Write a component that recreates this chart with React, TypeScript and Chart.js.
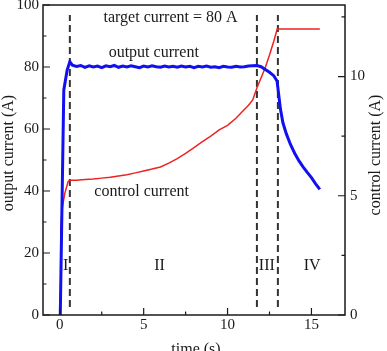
import React, { useEffect, useRef } from "react";
import { Chart, registerables } from "chart.js";
Chart.register(...registerables);

// ---- data ----
const outTime = [0, 0.03, 0.24, 0.44, 0.6, 0.75, 1.0, 1.25, 1.5, 1.75, 2.0, 2.25, 2.5, 2.75, 3.0, 3.25, 3.5, 3.75, 4.0, 4.25, 4.5, 4.75, 5.0, 5.25, 5.5, 5.75, 6.0, 6.25, 6.5, 6.75, 7.0, 7.25, 7.5, 7.75, 8.0, 8.25, 8.5, 8.75, 9.0, 9.25, 9.5, 9.75, 10.0, 10.25, 10.5, 10.75, 11.0, 11.25, 11.5, 11.75, 12.0, 12.25, 12.5, 12.75, 12.95, 13.05, 13.15, 13.3, 13.5, 13.75, 14.0, 14.25, 14.5, 14.75, 15.0, 15.25, 15.5];
const outCurrent = [0, 0, 72.6, 79, 81.7, 80.6, 80.2, 80.5, 79.9, 80.4, 80.0, 80.3, 79.8, 80.4, 80.1, 80.5, 79.9, 80.3, 80.0, 80.4, 80.1, 79.8, 80.3, 80.0, 80.4, 80.1, 79.9, 80.3, 80.0, 80.2, 79.9, 80.3, 80.0, 80.2, 79.8, 80.2, 80.0, 80.3, 79.9, 80.1, 79.8, 80.2, 80.0, 79.9, 80.2, 80.0, 80.1, 80.3, 80.4, 80.5, 80.1, 79.2, 78.3, 77.2, 75.5, 71, 66.5, 62, 58.5, 55, 52.2, 49.8, 47.8, 46, 44.3, 42.3, 40.5];
const ctrlTime = [0, 0.02, 0.06, 0.15, 0.3, 0.5, 0.6, 1.0, 1.5, 2.0, 2.5, 3.0, 3.5, 4.0, 4.5, 5.0, 5.5, 6.0, 6.5, 7.0, 7.5, 8.0, 8.5, 9.0, 9.5, 10.0, 10.5, 11.0, 11.25, 11.5, 11.75, 12.0, 12.25, 12.5, 12.75, 12.96, 15.5];
const ctrlCurrent = [0, 0.5, 3.6, 4.5, 5.1, 5.6, 5.65, 5.65, 5.68, 5.7, 5.74, 5.78, 5.83, 5.88, 5.96, 6.04, 6.12, 6.21, 6.37, 6.56, 6.78, 7.02, 7.27, 7.5, 7.76, 7.95, 8.25, 8.62, 8.8, 9.02, 9.52, 9.95, 10.38, 10.9, 11.47, 11.99, 11.99];
const phaseBoundaries = [0.6, 11.75, 13.0];
const phaseLabels = ["I", "II", "III", "IV"];
const phaseLabelTimes = [0.35, 5.95, 12.34, 15.04];
const xMajorTicks = [0, 5, 10, 15];
const xMinorTicks = [2.5, 7.5, 12.5];
const yLeftMajor = [0, 20, 40, 60, 80, 100];
const yLeftMinor = [10, 30, 50, 70, 90];
const yRightMajor = [0, 5, 10];
const yRightMinor = [2.5, 7.5, 12.5];

const FONT = "Liberation Serif";
const INK = "#1a1a1a";

const pairs = (xs: number[], ys: number[]) => xs.map((x, i) => ({ x, y: ys[i] }));

const decorPlugin = {
  id: "decor",
  afterDatasetsDraw(chart: any) {
    const { ctx, chartArea: a, scales } = chart;
    const sx = scales.x, sy = scales.y, sr = scales.y2;
    ctx.save();
    // frame
    ctx.strokeStyle = INK;
    ctx.lineWidth = 1.5;
    ctx.strokeRect(a.left, a.top, a.right - a.left, a.bottom - a.top);
    // ticks
    ctx.lineWidth = 1.2;
    ctx.beginPath();
    const tick = (x1: number, y1: number, x2: number, y2: number) => {
      ctx.moveTo(x1, y1);
      ctx.lineTo(x2, y2);
    };
    xMajorTicks.forEach((v) => { const p = sx.getPixelForValue(v); tick(p, a.bottom, p, a.bottom - 7); });
    xMinorTicks.forEach((v) => { const p = sx.getPixelForValue(v); tick(p, a.bottom, p, a.bottom - 3.5); });
    yLeftMajor.forEach((v) => { const p = sy.getPixelForValue(v); tick(a.left, p, a.left + 7, p); });
    yLeftMinor.forEach((v) => { const p = sy.getPixelForValue(v); tick(a.left, p, a.left + 3.5, p); });
    yRightMajor.forEach((v) => { const p = sr.getPixelForValue(v); tick(a.right, p, a.right - 7, p); });
    yRightMinor.forEach((v) => { const p = sr.getPixelForValue(v); tick(a.right, p, a.right - 3.5, p); });
    ctx.stroke();
    // annotations
    ctx.fillStyle = INK;
    ctx.font = `16px "${FONT}"`;
    ctx.textAlign = "center";
    ctx.textBaseline = "middle";
    ctx.fillText("target current = 80 A", sx.getPixelForValue(6.6), sy.getPixelForValue(95.8));
    ctx.fillText("output current", sx.getPixelForValue(5.6), sy.getPixelForValue(84.5));
    ctx.fillText("control current", sx.getPixelForValue(4.88), sy.getPixelForValue(39.7));
    phaseLabels.forEach((t, i) => {
      ctx.fillText(t, sx.getPixelForValue(phaseLabelTimes[i]), sy.getPixelForValue(15.8));
    });
    // axis titles
    ctx.fillText("time (s)", 196, 350);
    ctx.save();
    ctx.translate(9, 153);
    ctx.rotate(-Math.PI / 2);
    ctx.fillText("output current (A)", 0, 0);
    ctx.restore();
    ctx.save();
    ctx.translate(376, 155);
    ctx.rotate(-Math.PI / 2);
    ctx.fillText("control current (A)", 0, 0);
    ctx.restore();
    ctx.restore();
  },
};

export default function App() {
  const ref = useRef<HTMLCanvasElement>(null);
  useEffect(() => {
    if (!ref.current) return;
    const dashed = phaseBoundaries.map((b) => ({
      data: [{ x: b, y: 2.6 }, { x: b, y: 96.8 }],
      borderColor: "#333333",
      borderWidth: 2,
      borderDash: [7, 4],
      pointRadius: 0,
      yAxisID: "y",
      order: 3,
    }));
    const tickFont = { family: FONT, size: 15 };
    const noPad = (s: any) => {
      s.paddingTop = 0;
      s.paddingBottom = 0;
      s.paddingLeft = 0;
      s.paddingRight = 0;
    };
    const chart = new Chart(ref.current, {
      type: "line",
      data: {
        datasets: [
          ...dashed,
          {
            data: pairs(ctrlTime, ctrlCurrent),
            borderColor: "#ee2222",
            borderWidth: 1.5,
            pointRadius: 0,
            yAxisID: "y2",
            order: 2,
          },
          {
            data: pairs(outTime, outCurrent),
            borderColor: "#1010f0",
            borderWidth: 3,
            pointRadius: 0,
            yAxisID: "y",
            order: 1,
          },
        ] as any,
      },
      options: {
        animation: false,
        responsive: false,
        layout: { padding: { top: 5, left: 0, right: 0, bottom: 0 } },
        plugins: { legend: { display: false }, tooltip: { enabled: false } },
        scales: {
          x: {
            type: "linear",
            min: -1,
            max: 17,
            grid: { display: false, drawTicks: false },
            border: { display: false },
            ticks: { font: tickFont, color: INK, padding: 1, maxRotation: 0 },
            afterBuildTicks: (s: any) => { s.ticks = xMajorTicks.map((value) => ({ value })); },
            afterFit: (s: any) => { s.height = 36; noPad(s); },
          },
          y: {
            position: "left",
            min: 0,
            max: 100,
            grid: { display: false, drawTicks: false },
            border: { display: false },
            ticks: { font: tickFont, color: INK, padding: 4 },
            afterBuildTicks: (s: any) => { s.ticks = yLeftMajor.map((value) => ({ value })); },
            afterFit: (s: any) => { s.width = 43; noPad(s); },
          },
          y2: {
            position: "right",
            min: 0,
            max: 13,
            grid: { display: false, drawTicks: false },
            border: { display: false },
            ticks: { font: tickFont, color: INK, padding: 5 },
            afterBuildTicks: (s: any) => { s.ticks = yRightMajor.map((value) => ({ value })); },
            afterFit: (s: any) => { s.width = 42; noPad(s); },
          },
        },
      } as any,
      plugins: [decorPlugin],
    });
    return () => chart.destroy();
  }, []);
  return (
    <div style={{ position: "fixed", left: 0, top: 0, width: 387, height: 351, background: "#fff" }}>
      <canvas ref={ref} width={387} height={351} style={{ display: "block" }} />
    </div>
  );
}
